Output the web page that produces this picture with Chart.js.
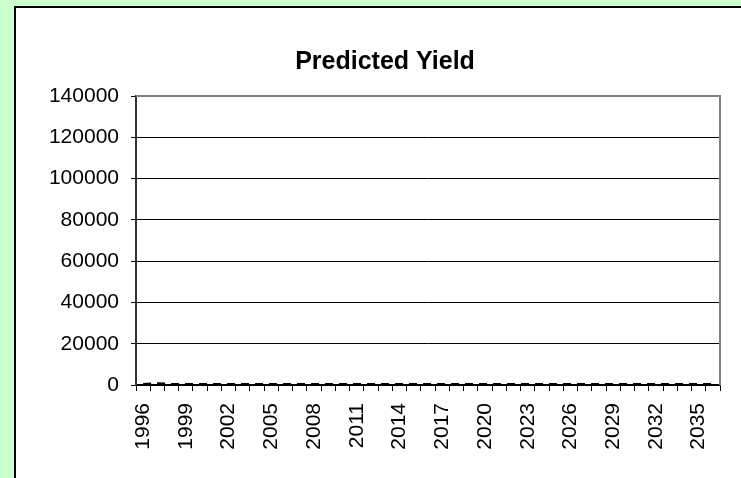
<!DOCTYPE html>
<html>
<head>
<meta charset="utf-8">
<script src="https://cdn.jsdelivr.net/npm/chart.js@4/dist/chart.umd.min.js"></script>
<style>
  html, body { margin: 0; padding: 0; background: #ccffcc; width: 741px; height: 478px; overflow: hidden; }
  #frame {
    position: absolute; left: 14px; top: 6px; width: 760px; height: 520px;
    background: #ffffff; border-left: 2px solid #000; border-top: 2px solid #000;
  }
  #wrap { position: absolute; left: 0; top: 0; width: 738px; height: 470px; }
</style>
</head>
<body>
<div id="frame"><div id="wrap"><canvas id="chart"></canvas></div></div>
<script>
// Years on the category axis
const years = [
  '1996','1997','1998','1999','2000','2001','2002','2003','2004','2005',
  '2006','2007','2008','2009','2010','2011','2012','2013','2014','2015',
  '2016','2017','2018','2019','2020','2021','2022','2023','2024','2025',
  '2026','2027','2028','2029','2030','2031','2032','2033','2034','2035','2036'
];

// Predicted yield per year
const predictedYield = [
  500, 900, 500, 500, 500, 500, 500, 500, 500, 500,
  500, 500, 500, 500, 500, 500, 500, 500, 500, 500,
  500, 500, 500, 500, 500, 500, 500, 500, 500, 500,
  500, 500, 500, 500, 500, 500, 500, 500, 500, 500, 500
];

// Value axis ticks
const yTicks = [0, 20000, 40000, 60000, 80000, 100000, 120000, 140000];

const FONT = '"Liberation Sans", Arial, sans-serif';

// Grey frame on the top and right edges of the plot area
const plotFrame = {
  id: 'plotFrame',
  afterDatasetsDraw(chart) {
    const { ctx, chartArea: a } = chart;
    ctx.save();
    ctx.strokeStyle = '#808080';
    ctx.lineWidth = 2;
    ctx.beginPath();
    ctx.moveTo(a.left, a.top);
    ctx.lineTo(a.right, a.top);
    ctx.lineTo(a.right, a.bottom);
    ctx.stroke();
    ctx.restore();
  }
};

new Chart(document.getElementById('chart'), {
  type: 'line',
  data: {
    labels: years,
    datasets: [{
      label: 'Predicted Yield',
      data: predictedYield,
      borderColor: '#000000',
      borderWidth: 2,
      borderDash: [8, 6],
      pointRadius: 0,
      tension: 0,
      fill: false
    }]
  },
  options: {
    responsive: true,
    maintainAspectRatio: false,
    animation: false,
    layout: { padding: 0 },
    plugins: {
      legend: { display: false },
      tooltip: { enabled: false },
      title: {
        display: true,
        text: 'Predicted Yield',
        color: '#000',
        font: { family: FONT, size: 25, weight: 'bold' },
        padding: { top: 39, bottom: 19 }
      }
    },
    scales: {
      x: {
        type: 'category',
        offset: true,
        grid: {
          offset: true,
          drawOnChartArea: false,
          drawTicks: true,
          tickLength: 6,
          tickColor: '#000'
        },
        border: { display: true, color: '#000', width: 1.5 },
        ticks: {
          autoSkip: false,
          minRotation: 90,
          maxRotation: 90,
          padding: 12,
          color: '#000',
          font: { family: FONT, size: 21 },
          callback: (v, i) => (i % 3 === 0 ? years[i] : '')
        },
        afterFit: (s) => { s.height = 93; }
      },
      y: {
        min: 0,
        max: 140000,
        afterBuildTicks: (s) => { s.ticks = yTicks.map(v => ({ value: v })); },
        grid: {
          color: (c) => (c.tick && c.tick.value === 140000 ? '#808080' : '#000'),
          lineWidth: 1,
          tickLength: 5,
          tickColor: '#000'
        },
        border: { display: true, color: '#333', width: 2 },
        ticks: {
          padding: 12,
          color: '#000',
          font: { family: FONT, size: 21 },
          callback: (v) => String(v)
        },
        afterFit: (s) => { s.width = 120; }
      },
      // empty right-hand margin beside the plot
      yRight: {
        position: 'right',
        min: 0,
        max: 140000,
        grid: { display: false, drawTicks: false },
        border: { display: false },
        ticks: { display: false },
        afterFit: (s) => { s.width = 34; }
      }
    }
  },
  plugins: [plotFrame]
});
</script>
</body>
</html>
